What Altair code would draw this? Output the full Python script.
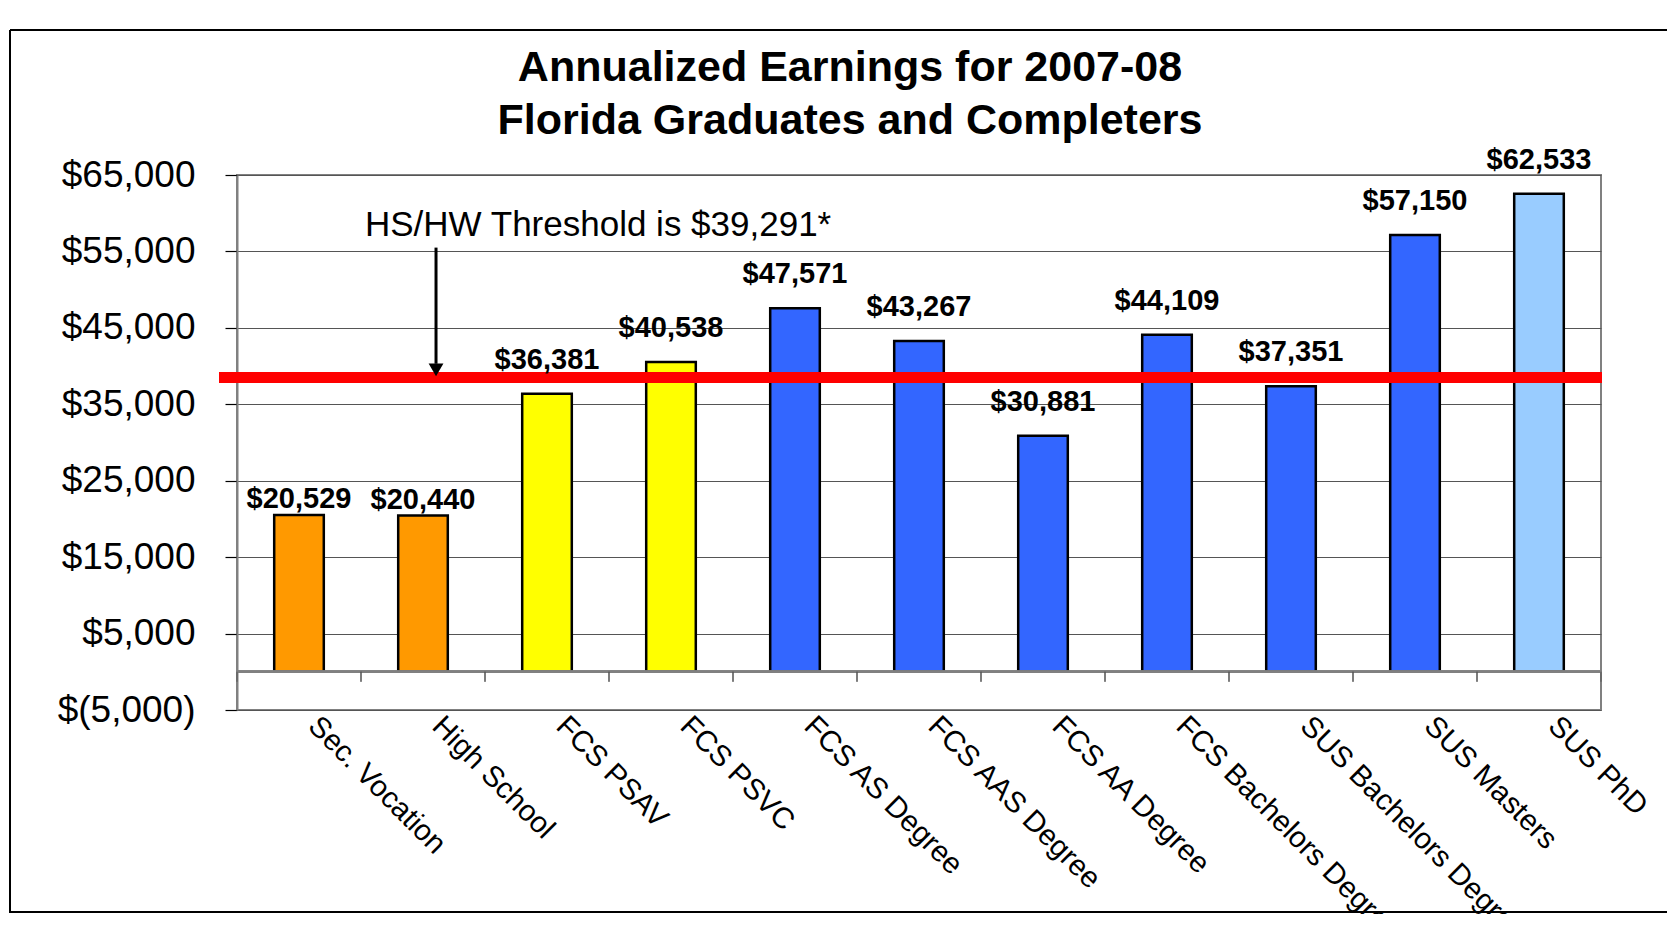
import altair as alt
import pandas as pd

# ---------------- data ----------------
CATEGORIES = [
    "Sec. Vocation", "High School", "FCS PSAV", "FCS PSVC", "FCS AS Degree",
    "FCS AAS Degree", "FCS AA Degree", "FCS Bachelors Degree",
    "SUS Bachelors Degree", "SUS Masters", "SUS PhD",
]
EARNINGS = [20529, 20440, 36381, 40538, 47571, 43267, 30881, 44109, 37351, 57150, 62533]
TIERS = ["Secondary", "Secondary", "Certificate", "Certificate", "Degree",
         "Degree", "Degree", "Degree", "Degree", "Degree", "Doctorate"]
TIER_NAMES = ["Secondary", "Certificate", "Degree", "Doctorate"]
TIER_COLORS = ["#FF9900", "#FFFF00", "#3366FF", "#99CCFF"]

Y_DOMAIN = [-5000, 65000]
Y_TICKS = [-5000, 5000, 15000, 25000, 35000, 45000, 55000, 65000]

THRESHOLD_LINE = 38500          # where the red line is drawn in the picture
THRESHOLD_TEXT = "HS/HW Threshold is $39,291*"
ARROW_CATEGORY = ["High School"]
ARROW_TOP = 55500
ARROW_SHAFT_END = 40300
ARROW_HEAD = 39500
TEXT_Y = 57000

TITLE = ["Annualized Earnings for 2007-08", "Florida Graduates and Completers"]

# ---------------- chart ----------------
FONT = "Liberation Sans"
W, H = 1364, 535

df = pd.DataFrame({"category": CATEGORIES, "earnings": EARNINGS, "tier": TIERS})
ann = pd.DataFrame({"category": ARROW_CATEGORY, "label": [THRESHOLD_TEXT]})
title_df = pd.DataFrame({"line": [0, 1], "text": TITLE})

x_enc = alt.X(
    "category:N", sort=CATEGORIES,
    scale=alt.Scale(paddingInner=0, paddingOuter=0),
    axis=alt.Axis(
        title=None, labelAngle=45, labelAlign="left", labelBaseline="top",
        labelFontSize=29.5, labelFont=FONT, labelColor="black",
        labelPadding=1, labelOffset=24, ticks=False, tickSize=0,
        domain=False, grid=False, labelLimit=800, labelOverlap=False,
    ),
)
y_enc = alt.Y(
    "earnings:Q",
    scale=alt.Scale(domain=Y_DOMAIN, nice=False, zero=False),
    axis=alt.Axis(
        title=None, values=Y_TICKS,
        labelExpr="datum.value < 0 ? '$(' + format(-datum.value, ',') + ')' : '$' + format(datum.value, ',')",
        labelFontSize=37, labelFont=FONT, labelColor="black", labelPadding=30,
        tickSize=12, tickColor="black", tickWidth=1.2,
        domainColor="#808080", domainWidth=2,
        gridColor="#555555", gridWidth=1.2,
    ),
)

base = alt.Chart(df)

bars = base.mark_bar(width=alt.RelativeBandSize(0.4), stroke="black", strokeWidth=2.5).encode(
    x=x_enc, y=y_enc, y2=alt.datum(0),
    color=alt.Color("tier:N", scale=alt.Scale(domain=TIER_NAMES, range=TIER_COLORS), legend=None),
)

labels_low = base.transform_filter("datum.tier == 'Secondary'").mark_text(
    font=FONT, fontSize=29, fontWeight="bold", baseline="alphabetic", dy=-7, color="black"
).encode(x=alt.X("category:N", sort=CATEGORIES), y="earnings:Q",
         text=alt.Text("earnings:Q", format="$,.0f"))

labels_high = base.transform_filter("datum.tier != 'Secondary'").mark_text(
    font=FONT, fontSize=29, fontWeight="bold", baseline="alphabetic", dy=-25, color="black"
).encode(x=alt.X("category:N", sort=CATEGORIES), y="earnings:Q",
         text=alt.Text("earnings:Q", format="$,.0f"))

zero_line = base.mark_rule(color="#808080", strokeWidth=2).encode(
    y=alt.datum(0), x=alt.value(0), x2=alt.value(W)
)

ticks_left = base.mark_tick(orient="vertical", size=10, thickness=1.5, color="#555555", yOffset=5).encode(
    x=alt.X("category:N", sort=CATEGORIES, bandPosition=0), y=alt.datum(0)
)
ticks_right = base.mark_tick(orient="vertical", size=10, thickness=1.5, color="#555555", yOffset=5).encode(
    x=alt.X("category:N", sort=CATEGORIES, bandPosition=1), y=alt.datum(0)
)

red_line = base.mark_rule(color="#FF0000", strokeWidth=10).encode(
    y=alt.datum(THRESHOLD_LINE), x=alt.value(-18), x2=alt.value(W + 1)
)

arrow_shaft = alt.Chart(ann).mark_rule(color="black", strokeWidth=3).encode(
    x=alt.X("category:N", sort=CATEGORIES, bandPosition=0.605),
    y=alt.datum(ARROW_TOP), y2=alt.datum(ARROW_SHAFT_END),
)
arrow_head = alt.Chart(ann).mark_point(shape="triangle-down", filled=True, size=220,
                                       color="black", opacity=1).encode(
    x=alt.X("category:N", sort=CATEGORIES, bandPosition=0.605),
    y=alt.datum(ARROW_HEAD),
)
arrow_text = alt.Chart(ann).mark_text(font=FONT, fontSize=35, align="left",
                                      baseline="alphabetic", dx=4, color="black").encode(
    x=alt.X("category:N", sort=CATEGORIES, bandPosition=0),
    y=alt.datum(TEXT_Y), text="label:N",
)

# chart title, two centred lines above the plot
title_1 = alt.Chart(title_df).transform_filter("datum.line == 0").mark_text(
    font=FONT, fontSize=43, fontWeight="bold", align="center", baseline="alphabetic", color="black"
).encode(x=alt.value(613), y=alt.value(-94), text="text:N")
title_2 = alt.Chart(title_df).transform_filter("datum.line == 1").mark_text(
    font=FONT, fontSize=43, fontWeight="bold", align="center", baseline="alphabetic", color="black"
).encode(x=alt.value(613), y=alt.value(-41), text="text:N")

# outer frame of the slide image
frame_left = base.mark_rule(color="black", strokeWidth=2).encode(
    x=alt.value(-227), y=alt.value(-145), y2=alt.value(738))
frame_top = base.mark_rule(color="black", strokeWidth=2).encode(
    x=alt.value(-227), x2=alt.value(1430), y=alt.value(-145))
frame_bottom = base.mark_rule(color="black", strokeWidth=2).encode(
    x=alt.value(-227), x2=alt.value(1430), y=alt.value(737))

chart = alt.layer(
    bars, zero_line, ticks_left, ticks_right, red_line,
    labels_low, labels_high, arrow_shaft, arrow_head, arrow_text,
    title_1, title_2,
    frame_left, frame_top, frame_bottom,
).properties(
    width=W, height=H,
    autosize=alt.AutoSizeParams(type="none"),
    padding={"left": 229, "top": 167, "right": 66, "bottom": 204},
    background="white",
).configure_view(stroke="#808080", strokeWidth=2)

chart.save("out.html", embed_options={"renderer": "svg", "actions": False})
